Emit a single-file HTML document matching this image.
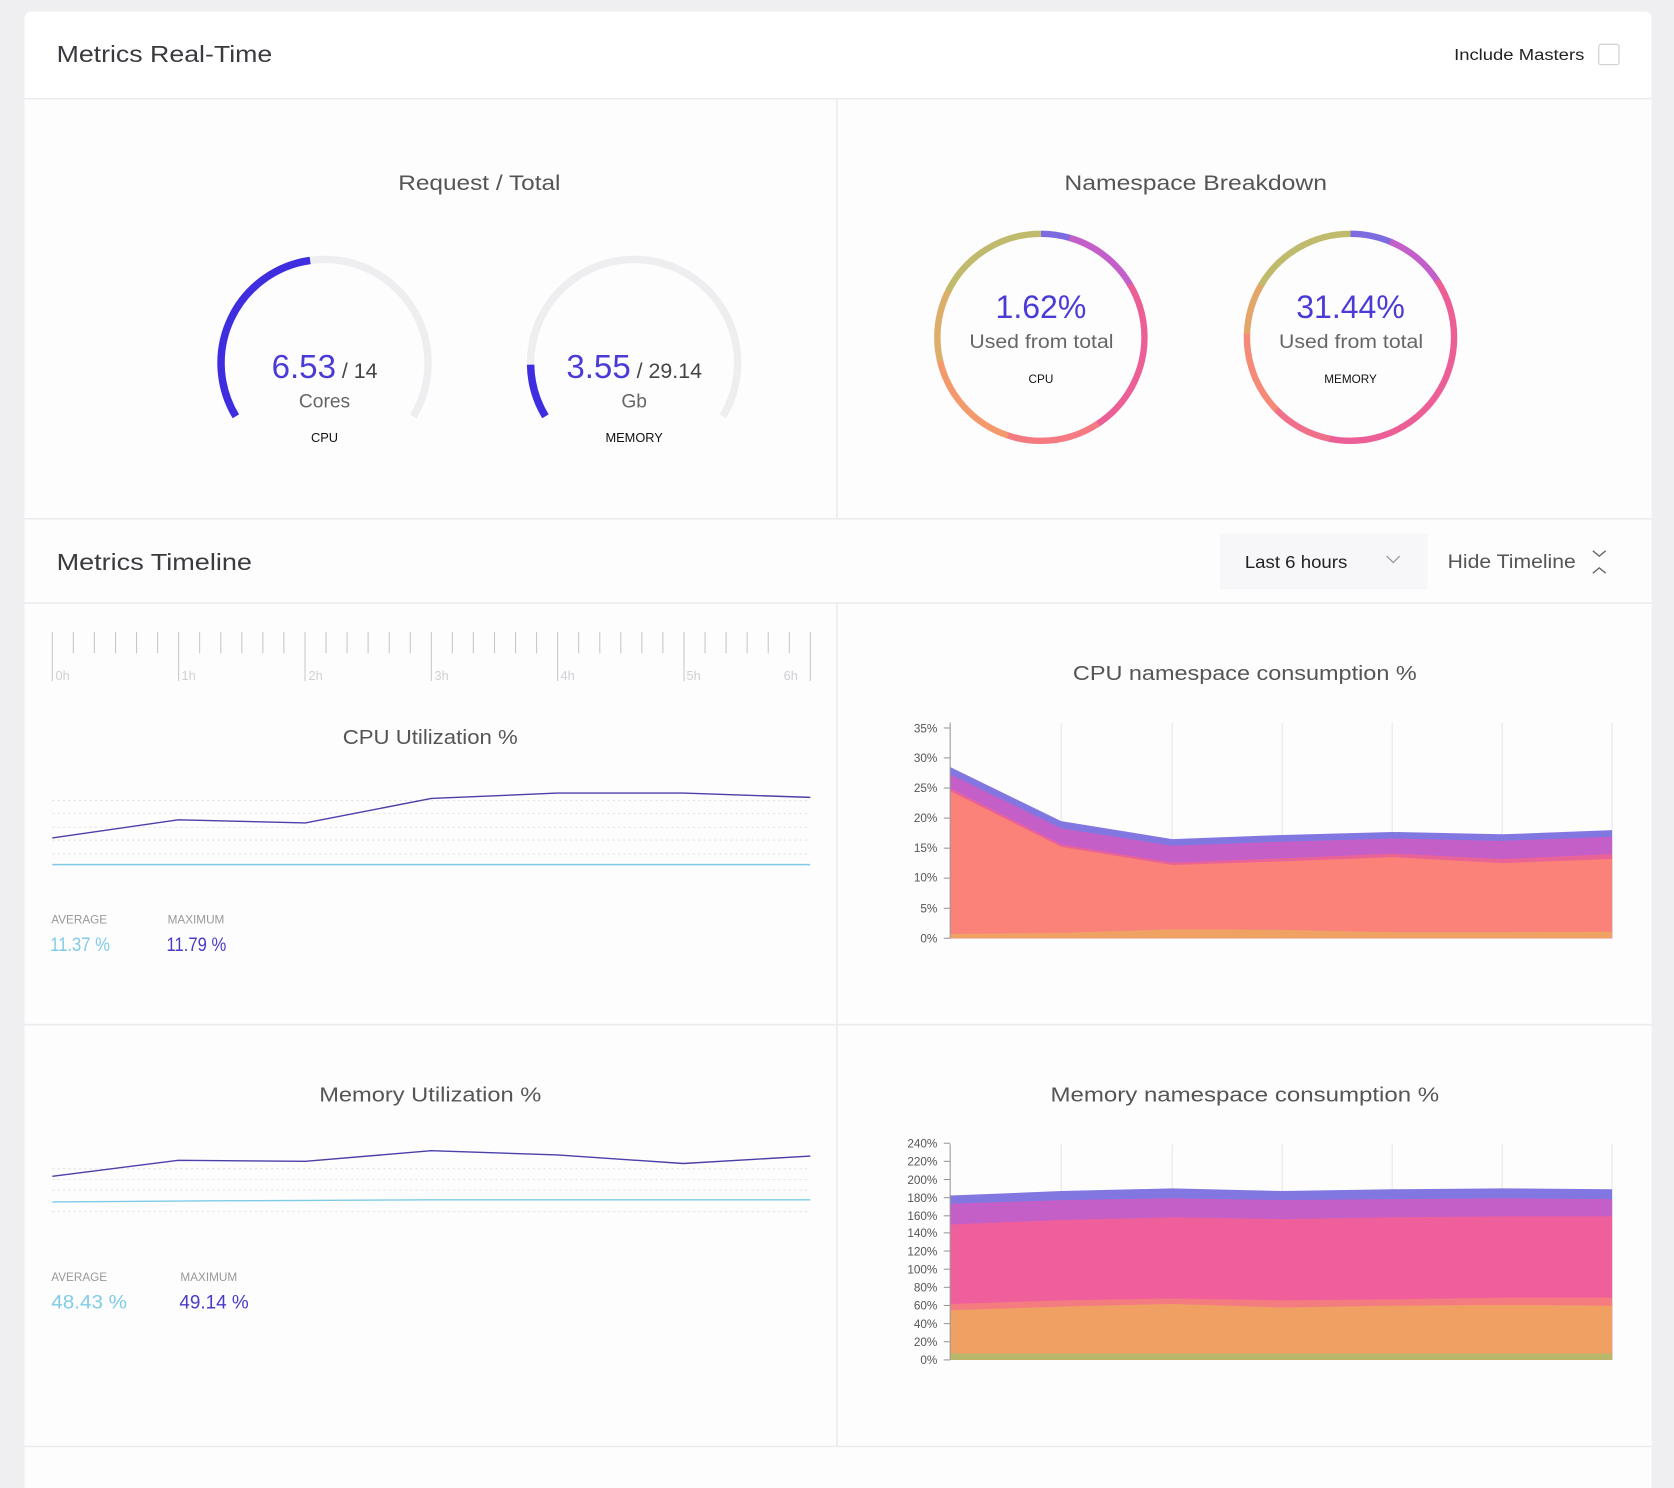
<!DOCTYPE html>
<html><head><meta charset="utf-8"><style>
html,body{margin:0;padding:0;background:#efeff1;}
svg{display:block;}
text{font-family:"Liberation Sans",sans-serif;}
</style></head><body>
<svg width="1674" height="1488" viewBox="0 0 1568 1394" preserveAspectRatio="none" xmlns="http://www.w3.org/2000/svg">
<rect x="0" y="0" width="1568" height="1394" fill="#efeff1"/>
<rect x="23" y="11" width="1524" height="1400" rx="6" fill="#fdfdfe"/>
<rect x="23" y="11" width="1524" height="81" rx="6" fill="#ffffff"/>
<g stroke="#ececef" stroke-width="1.5">
<line x1="23" y1="92.5" x2="1547" y2="92.5"/>
<line x1="784" y1="93" x2="784" y2="486"/>
<line x1="23" y1="486" x2="1547" y2="486"/>
<line x1="23" y1="565" x2="1547" y2="565"/>
<line x1="784" y1="565" x2="784" y2="1355"/>
<line x1="23" y1="960" x2="1547" y2="960"/>
<line x1="23" y1="1355" x2="1547" y2="1355"/>
</g>
<text x="53" y="58" font-size="22" fill="#3a3a3f" textLength="202" lengthAdjust="spacingAndGlyphs">Metrics Real-Time</text>
<text x="1362" y="56" font-size="15" fill="#222" textLength="122" lengthAdjust="spacingAndGlyphs">Include Masters</text>
<rect x="1497.5" y="41.5" width="19" height="19" rx="2" fill="#fff" stroke="#d4d4d8" stroke-width="1.2"/>

<text x="373" y="178" font-size="20" fill="#555" textLength="152" lengthAdjust="spacingAndGlyphs">Request / Total</text>
<path d="M220.9,390 A97,97 0 1 1 387.1,390" fill="none" stroke="#eeeef0" stroke-width="7"/>
<path d="M220.9,390 A97,97 0 0 1 290.5,244" fill="none" stroke="#3f2ee0" stroke-width="7"/>
<path d="M510.9,390 A97,97 0 1 1 677.1,390" fill="none" stroke="#eeeef0" stroke-width="7"/>
<path d="M510.9,390 A97,97 0 0 1 497,341.7" fill="none" stroke="#3f2ee0" stroke-width="7"/>
<text x="304" y="354" font-size="31" text-anchor="middle"><tspan fill="#4a3bd6">6.53</tspan><tspan fill="#444" font-size="20"> / 14</tspan></text>
<text x="304" y="382" font-size="18" fill="#666" text-anchor="middle">Cores</text>
<text x="304" y="414" font-size="12" fill="#111" text-anchor="middle">CPU</text>
<text x="594" y="354" font-size="31" text-anchor="middle"><tspan fill="#4a3bd6">3.55</tspan><tspan fill="#444" font-size="20"> / 29.14</tspan></text>
<text x="594" y="382" font-size="18" fill="#666" text-anchor="middle">Gb</text>
<text x="594" y="414" font-size="12" fill="#111" text-anchor="middle">MEMORY</text>

<text x="997" y="178" font-size="20" fill="#555" textLength="246" lengthAdjust="spacingAndGlyphs">Namespace Breakdown</text>
<g fill="none" stroke-width="6">
<g transform="translate(975,316) rotate(-90)">
<circle r="97" stroke="#7d6be0" stroke-dasharray="28 610" stroke-dashoffset="0"/>
<circle r="97" stroke="#c25fc9" stroke-dasharray="75 610" stroke-dashoffset="-27"/>
<circle r="97" stroke="#ec5f96" stroke-dasharray="150 610" stroke-dashoffset="-100"/>
<circle r="97" stroke="#f57a82" stroke-dasharray="90 610" stroke-dashoffset="-248"/>
<circle r="97" stroke="#f3996c" stroke-dasharray="100 610" stroke-dashoffset="-336"/>
<circle r="97" stroke="#dcae6a" stroke-dasharray="70 610" stroke-dashoffset="-434"/>
<circle r="97" stroke="#c0bb6c" stroke-dasharray="108 610" stroke-dashoffset="-502"/>
</g>
<g transform="translate(1265,316) rotate(-90)">
<circle r="97" stroke="#7d6be0" stroke-dasharray="40 610" stroke-dashoffset="0"/>
<circle r="97" stroke="#c25fc9" stroke-dasharray="60 610" stroke-dashoffset="-38"/>
<circle r="97" stroke="#ec5f96" stroke-dasharray="230 610" stroke-dashoffset="-96"/>
<circle r="97" stroke="#f0708a" stroke-dasharray="60 610" stroke-dashoffset="-324"/>
<circle r="97" stroke="#f58a78" stroke-dasharray="80 610" stroke-dashoffset="-382"/>
<circle r="97" stroke="#e3a66a" stroke-dasharray="50 610" stroke-dashoffset="-460"/>
<circle r="97" stroke="#c0bb6c" stroke-dasharray="102 610" stroke-dashoffset="-508"/>
</g>
</g>
<text x="975" y="298" font-size="30" fill="#4a3bd6" text-anchor="middle">1.62%</text>
<text x="908" y="326" font-size="18" fill="#666" textLength="135" lengthAdjust="spacingAndGlyphs">Used from total</text>
<text x="975" y="359" font-size="11" fill="#111" text-anchor="middle">CPU</text>
<text x="1265" y="298" font-size="30" fill="#4a3bd6" text-anchor="middle">31.44%</text>
<text x="1198" y="326" font-size="18" fill="#666" textLength="135" lengthAdjust="spacingAndGlyphs">Used from total</text>
<text x="1265" y="359" font-size="11" fill="#111" text-anchor="middle">MEMORY</text>

<text x="53" y="534" font-size="22" fill="#3a3a3f" textLength="183" lengthAdjust="spacingAndGlyphs">Metrics Timeline</text>
<rect x="1143" y="500" width="194" height="52" fill="#f7f6f9"/>
<text x="1166" y="532" font-size="16" fill="#222" textLength="96" lengthAdjust="spacingAndGlyphs">Last 6 hours</text>
<path d="M1299,521 l6,6 l6,-6" fill="none" stroke="#999" stroke-width="1.2"/>
<text x="1356" y="532" font-size="18" fill="#555" textLength="120" lengthAdjust="spacingAndGlyphs">Hide Timeline</text>
<path d="M1492,516 l6,5 l6,-5 M1492,537 l6,-5 l6,5" fill="none" stroke="#666" stroke-width="1.3"/>

<g stroke="#c8c8cc" stroke-width="1">
<line x1="49" y1="592" x2="49" y2="638"/><line x1="68.7" y1="592" x2="68.7" y2="612"/><line x1="88.4" y1="592" x2="88.4" y2="612"/><line x1="108.2" y1="592" x2="108.2" y2="612"/><line x1="127.9" y1="592" x2="127.9" y2="612"/><line x1="147.6" y1="592" x2="147.6" y2="612"/>
<line x1="167.3" y1="592" x2="167.3" y2="638"/><line x1="187" y1="592" x2="187" y2="612"/><line x1="206.8" y1="592" x2="206.8" y2="612"/><line x1="226.5" y1="592" x2="226.5" y2="612"/><line x1="246.2" y1="592" x2="246.2" y2="612"/><line x1="265.9" y1="592" x2="265.9" y2="612"/>
<line x1="285.7" y1="592" x2="285.7" y2="638"/><line x1="305.4" y1="592" x2="305.4" y2="612"/><line x1="325.1" y1="592" x2="325.1" y2="612"/><line x1="344.8" y1="592" x2="344.8" y2="612"/><line x1="364.6" y1="592" x2="364.6" y2="612"/><line x1="384.3" y1="592" x2="384.3" y2="612"/>
<line x1="404" y1="592" x2="404" y2="638"/><line x1="423.7" y1="592" x2="423.7" y2="612"/><line x1="443.4" y1="592" x2="443.4" y2="612"/><line x1="463.2" y1="592" x2="463.2" y2="612"/><line x1="482.9" y1="592" x2="482.9" y2="612"/><line x1="502.6" y1="592" x2="502.6" y2="612"/>
<line x1="522.3" y1="592" x2="522.3" y2="638"/><line x1="542" y1="592" x2="542" y2="612"/><line x1="561.8" y1="592" x2="561.8" y2="612"/><line x1="581.5" y1="592" x2="581.5" y2="612"/><line x1="601.2" y1="592" x2="601.2" y2="612"/><line x1="620.9" y1="592" x2="620.9" y2="612"/>
<line x1="640.7" y1="592" x2="640.7" y2="638"/><line x1="660.4" y1="592" x2="660.4" y2="612"/><line x1="680.1" y1="592" x2="680.1" y2="612"/><line x1="699.8" y1="592" x2="699.8" y2="612"/><line x1="719.6" y1="592" x2="719.6" y2="612"/><line x1="739.3" y1="592" x2="739.3" y2="612"/>
<line x1="759" y1="592" x2="759" y2="638"/>
</g>
<g font-size="12" fill="#d0d0d4">
<text x="52" y="637">0h</text><text x="170" y="637">1h</text><text x="289" y="637">2h</text><text x="407" y="637">3h</text><text x="525" y="637">4h</text><text x="643" y="637">5h</text><text x="734" y="637">6h</text>
</g>

<text x="321" y="697" font-size="19" fill="#555" textLength="164" lengthAdjust="spacingAndGlyphs">CPU Utilization %</text>
<g stroke="#e2e2e6" stroke-dasharray="2 3" stroke-width="1">
<line x1="49" y1="750" x2="759" y2="750"/><line x1="49" y1="762" x2="759" y2="762"/><line x1="49" y1="775" x2="759" y2="775"/><line x1="49" y1="787" x2="759" y2="787"/><line x1="49" y1="800" x2="759" y2="800"/>
</g>
<polyline points="49,785 167,768 286,771 404,748 522,743 640,743 759,747" fill="none" stroke="#4b3fa8" stroke-width="1.3"/>
<line x1="49" y1="810" x2="759" y2="810" stroke="#7fcbe6" stroke-width="1.3"/>
<text x="48" y="865" font-size="11" fill="#999">AVERAGE</text>
<text x="157" y="865" font-size="11" fill="#999">MAXIMUM</text>
<text x="47" y="891" font-size="18" fill="#80cbe8" textLength="56" lengthAdjust="spacingAndGlyphs">11.37 %</text>
<text x="156" y="891" font-size="18" fill="#4a3bc6" textLength="56" lengthAdjust="spacingAndGlyphs">11.79 %</text>

<text x="1005" y="637" font-size="19" fill="#555" textLength="322" lengthAdjust="spacingAndGlyphs">CPU namespace consumption %</text>
<g stroke="#e6e6ea" stroke-width="1">
<line x1="994" y1="677" x2="994" y2="879"/><line x1="1098" y1="677" x2="1098" y2="879"/><line x1="1201" y1="677" x2="1201" y2="879"/><line x1="1304" y1="677" x2="1304" y2="879"/><line x1="1407" y1="677" x2="1407" y2="879"/><line x1="1510" y1="677" x2="1510" y2="879"/>
</g>
<polygon fill="#8277e0" points="890,718.6 994,769.2 1098,786.1 1201,782.2 1304,779.4 1407,781.6 1510,777.7 1510,879 890,879"/>
<polygon fill="#c45fc8" points="890,725.3 994,776 1098,792.3 1201,788.4 1304,785.6 1407,787.8 1510,783.9 1510,879 890,879"/>
<polygon fill="#ea6396" points="890,738.3 994,791.2 1098,808.1 1201,804.1 1304,799.6 1407,804.7 1510,800.2 1510,879 890,879"/>
<polygon fill="#fa8279" points="890,741.1 994,793.4 1098,810.3 1201,807 1304,803 1407,808.6 1510,804.7 1510,879 890,879"/>
<polygon fill="#f0a264" points="890,875 994,874 1098,870.6 1201,871.1 1304,873.4 1407,873.4 1510,872.8 1510,879 890,879"/>
<line x1="890" y1="677" x2="890" y2="879" stroke="#999" stroke-width="1"/>
<g stroke="#999" stroke-width="1">
<line x1="884" y1="682" x2="890" y2="682"/><line x1="884" y1="710" x2="890" y2="710"/><line x1="884" y1="738.3" x2="890" y2="738.3"/><line x1="884" y1="766.4" x2="890" y2="766.4"/><line x1="884" y1="794.6" x2="890" y2="794.6"/><line x1="884" y1="822.7" x2="890" y2="822.7"/><line x1="884" y1="850.9" x2="890" y2="850.9"/><line x1="884" y1="879" x2="890" y2="879"/>
</g>
<g font-size="11" fill="#555" text-anchor="end">
<text x="878" y="686">35%</text><text x="878" y="714">30%</text><text x="878" y="742">25%</text><text x="878" y="770">20%</text><text x="878" y="798">15%</text><text x="878" y="826">10%</text><text x="878" y="855">5%</text><text x="878" y="883">0%</text>
</g>

<text x="299" y="1032" font-size="19" fill="#555" textLength="208" lengthAdjust="spacingAndGlyphs">Memory Utilization %</text>
<g stroke="#e2e2e6" stroke-dasharray="2 3" stroke-width="1">
<line x1="49" y1="1095" x2="759" y2="1095"/><line x1="49" y1="1105" x2="759" y2="1105"/><line x1="49" y1="1115" x2="759" y2="1115"/><line x1="49" y1="1135" x2="759" y2="1135"/>
</g>
<polyline points="49,1102 167,1087 286,1088 404,1078 522,1082 640,1090 759,1083" fill="none" stroke="#4b3fa8" stroke-width="1.3"/>
<polyline points="49,1126 200,1125 400,1124 759,1124" fill="none" stroke="#7fcbe6" stroke-width="1.3"/>
<text x="48" y="1200" font-size="11" fill="#999">AVERAGE</text>
<text x="169" y="1200" font-size="11" fill="#999">MAXIMUM</text>
<text x="48" y="1226" font-size="18" fill="#80cbe8" textLength="71" lengthAdjust="spacingAndGlyphs">48.43 %</text>
<text x="168" y="1226" font-size="18" fill="#4a3bc6" textLength="65" lengthAdjust="spacingAndGlyphs">49.14 %</text>

<text x="984" y="1032" font-size="19" fill="#555" textLength="364" lengthAdjust="spacingAndGlyphs">Memory namespace consumption %</text>
<g stroke="#e6e6ea" stroke-width="1">
<line x1="994" y1="1072" x2="994" y2="1274"/><line x1="1098" y1="1072" x2="1098" y2="1274"/><line x1="1201" y1="1072" x2="1201" y2="1274"/><line x1="1304" y1="1072" x2="1304" y2="1274"/><line x1="1407" y1="1072" x2="1407" y2="1274"/><line x1="1510" y1="1072" x2="1510" y2="1274"/>
</g>
<polygon fill="#8277e0" points="890,1120 994,1115.8 1098,1113.3 1201,1115.8 1304,1114.1 1407,1113.3 1510,1114.1 1510,1274 890,1274"/>
<polygon fill="#c45fc8" points="890,1127.7 994,1124.3 1098,1122.6 1201,1124.3 1304,1123.4 1407,1122.6 1510,1123.4 1510,1274 890,1274"/>
<polygon fill="#ef5f9b" points="890,1147.1 994,1142.9 1098,1140.4 1201,1142.1 1304,1140.4 1407,1139.5 1510,1139.5 1510,1274 890,1274"/>
<polygon fill="#f47c80" points="890,1221.6 994,1218.2 1098,1216.5 1201,1218.2 1304,1217.3 1407,1215.6 1510,1215.6 1510,1274 890,1274"/>
<polygon fill="#f1a064" points="890,1227.5 994,1224.1 1098,1221.6 1201,1224.9 1304,1223.3 1407,1222.4 1510,1223.3 1510,1274 890,1274"/>
<polygon fill="#b8b86a" points="890,1268 1510,1268 1510,1274 890,1274"/>
<line x1="890" y1="1072" x2="890" y2="1274" stroke="#999" stroke-width="1"/>
<g stroke="#999" stroke-width="1">
<line x1="884" y1="1071" x2="890" y2="1071"/><line x1="884" y1="1088" x2="890" y2="1088"/><line x1="884" y1="1105" x2="890" y2="1105"/><line x1="884" y1="1122" x2="890" y2="1122"/><line x1="884" y1="1139" x2="890" y2="1139"/><line x1="884" y1="1155" x2="890" y2="1155"/><line x1="884" y1="1172" x2="890" y2="1172"/><line x1="884" y1="1189" x2="890" y2="1189"/><line x1="884" y1="1206" x2="890" y2="1206"/><line x1="884" y1="1223" x2="890" y2="1223"/><line x1="884" y1="1240" x2="890" y2="1240"/><line x1="884" y1="1257" x2="890" y2="1257"/><line x1="884" y1="1274" x2="890" y2="1274"/>
</g>
<g font-size="11" fill="#555" text-anchor="end">
<text x="878" y="1075">240%</text><text x="878" y="1092">220%</text><text x="878" y="1109">200%</text><text x="878" y="1126">180%</text><text x="878" y="1143">160%</text><text x="878" y="1159">140%</text><text x="878" y="1176">120%</text><text x="878" y="1193">100%</text><text x="878" y="1210">80%</text><text x="878" y="1227">60%</text><text x="878" y="1244">40%</text><text x="878" y="1261">20%</text><text x="878" y="1278">0%</text>
</g>
</svg>
</body></html>
